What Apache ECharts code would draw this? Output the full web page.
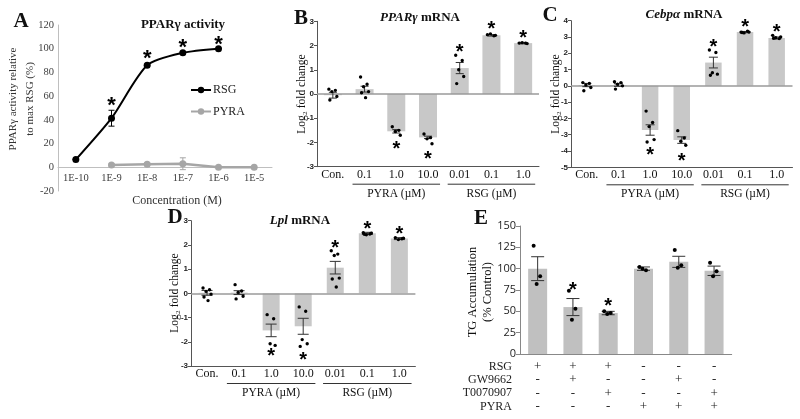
<!DOCTYPE html>
<html><head><meta charset="utf-8">
<script src="https://cdn.jsdelivr.net/npm/echarts/dist/echarts.min.js"></script>
<style>html,body{margin:0;padding:0;background:#fff}#c{width:800px;height:419px}</style>
</head><body><div id="c"></div>
<script>
const SERIF = '"Liberation Serif","Times New Roman",serif';
const SANS = '"Liberation Sans",Arial,sans-serif';

// ---------- Panel A data ----------
const concCats = ['1E-10','1E-9','1E-8','1E-7','1E-6','1E-5'];
const rsgActivity = [6.5, 41.4, 86, 96.5, 100, null];
const rsgActivityErr = [0, 6.7, 0.8, 0.8, 0, null];
const pyraActivity = [null, 2, 2.5, 3, 0, 0];
const pyraActivityErr = [null, 0.8, 1.2, 5, 0.3, 0.3];
const starsA = [[1, 56], [2, 96], [3, 105], [4, 108]];

// ---------- mRNA panels ----------
const mrnaCats = ['Con.', '0.1', '1.0', '10.0', '0.01', '0.1', '1.0'];
const mrnaGroups = [{label: 'PYRA (µM)', from: 1, to: 3}, {label: 'RSG (µM)', from: 4, to: 6}];

const pparMean = [-0.05, 0.2, -1.54, -1.79, 1.07, 2.42, 2.1];
const pparSem = [0.12, 0.12, 0.07, 0.05, 0.23, 0.03, 0.03];
const pparDots = [[0.2, 0.15, 0.1, -0.1, -0.25], [0.7, 0.4, 0.3, 0.1, 0.05, -0.15], [-1.35, -1.5, -1.55, -1.7],
  [-1.65, -1.8, -1.85, -2.05], [1.6, 1.38, 1.0, 0.72, 0.43], [2.45, 2.4, 2.48, 2.42], [2.1, 2.1, 2.12, 2.08]];
const pparStars = [[2, -2.1], [3, -2.5], [4, 1.9], [5, 2.85], [6, 2.5]];

const cebpMean = [0.05, 0.05, -2.71, -3.33, 1.43, 3.3, 2.94];
const cebpSem = [0.1, 0.08, 0.32, 0.2, 0.33, 0.04, 0.06];
const cebpDots = [[0.2, 0.15, 0.05, -0.1, -0.3], [0.25, 0.2, 0.1, 0, -0.2], [-1.55, -2.25, -2.5, -3.3, -3.45],
  [-2.75, -3.2, -3.4, -3.65], [2.2, 2.05, 0.8, 0.72, 0.65], [3.3, 3.35, 3.25, 3.3, 3.28], [3.1, 2.9, 2.95, 3.0, 2.92]];
const cebpStars = [[2, -4.0], [3, -4.35], [4, 2.63], [5, 3.86], [6, 3.57]];

const lplMean = [0.02, 0.03, -1.53, -1.36, 1.06, 2.48, 2.26];
const lplSem = [0.1, 0.08, 0.26, 0.33, 0.26, 0.04, 0.04];
const lplDots = [[0.22, 0.15, 0.08, -0.03, -0.15, -0.3], [0.36, 0.1, 0.04, -0.12, -0.23], [-0.88, -1.05, -2.08, -2.15],
  [-0.56, -0.74, -1.91, -2.08, -2.19], [1.76, 1.62, 1.56, 0.63, 0.59, 0.26], [2.5, 2.45, 2.42, 2.48, 2.44], [2.3, 2.25, 2.22, 2.28]];
const lplStars = [[2, -2.42], [3, -2.56], [4, 2.04], [5, 2.84], [6, 2.63]];

// ---------- Panel E ----------
const tgConditions = ['RSG', 'RSG+GW9662', 'RSG+T0070907', 'PYRA', 'PYRA+GW9662', 'PYRA+T0070907'];
const tgMean = [100, 55, 48, 100, 108, 97.5];
const tgSem = [14, 10, 2, 2, 6.5, 5.5];
const tgDots = [[127, 91, 82], [74, 53, 40], [50, 48, 47], [102, 98, 100], [122, 104, 101], [107, 97, 91]];
const tgStars = [[1, 80], [2, 61]];
const tableRowNames = ['RSG', 'GW9662', 'T0070907', 'PYRA'];
const tableRows = [
  ['+', '+', '+', '-', '-', '-'],
  ['-', '+', '-', '-', '+', '-'],
  ['-', '-', '+', '-', '-', '+'],
  ['-', '-', '-', '+', '+', '+']
];

const chart = echarts.init(document.getElementById('c'));
const jitter = [-4, 2.5, -1, 4, -3, 1];

function errSeries(gi, mean, sem, capW, color, lw) {
  const data = [];
  mean.forEach((m, i) => { if (m != null && sem[i] != null) data.push([i, m, sem[i]]); });
  return {
    type: 'custom', xAxisIndex: gi, yAxisIndex: gi, data, encode: {x: 0, y: 1}, z: 6, silent: true,
    renderItem: (p, api) => {
      const hi = api.coord([api.value(0), api.value(1) + api.value(2)]);
      const lo = api.coord([api.value(0), api.value(1) - api.value(2)]);
      const st = {stroke: color, lineWidth: lw};
      return {type: 'group', children: [
        {type: 'line', shape: {x1: hi[0], y1: hi[1], x2: lo[0], y2: lo[1]}, style: st},
        {type: 'line', shape: {x1: hi[0] - capW, y1: hi[1], x2: hi[0] + capW, y2: hi[1]}, style: st},
        {type: 'line', shape: {x1: lo[0] - capW, y1: lo[1], x2: lo[0] + capW, y2: lo[1]}, style: st}
      ]};
    }
  };
}
function dotSeries(gi, dots, r) {
  const data = [];
  dots.forEach((g, i) => g.forEach((v, j) => data.push([i, v, j])));
  return {
    type: 'custom', xAxisIndex: gi, yAxisIndex: gi, data, encode: {x: 0, y: 1}, z: 7, silent: true,
    renderItem: (p, api) => {
      const c = api.coord([api.value(0), api.value(1)]);
      return {type: 'circle', shape: {cx: c[0] + jitter[api.value(2) % jitter.length], cy: c[1], r}, style: {fill: '#000'}};
    }
  };
}
function starSeries(gi, stars, fs) {
  return {
    type: 'custom', xAxisIndex: gi, yAxisIndex: gi, data: stars, encode: {x: 0, y: 1}, z: 8, silent: true,
    renderItem: (p, api) => {
      const c = api.coord([api.value(0), api.value(1)]);
      return {type: 'text', x: c[0], y: c[1] + 0.24 * fs, style: {text: '*', fontSize: fs, fontFamily: SANS, fontWeight: 'bold', fill: '#000', align: 'center', verticalAlign: 'middle'}};
    }
  };
}

const grids = [
  {left: 58, top: 25, width: 214, height: 166},
  {left: 317, top: 21.3, width: 222, height: 145.4},
  {left: 571, top: 20.7, width: 221.5, height: 146.6},
  {left: 191, top: 220.7, width: 224.4, height: 145.3},
  {left: 520, top: 226, width: 211.7, height: 128}
];
const rangeA = [-20, 120];
const mrnaRanges = {1: [-3, 3], 2: [-5, 4], 3: [-3, 3]};

const xAxes = [], yAxes = [];
xAxes.push({gridIndex: 0, type: 'category', data: concCats,
  axisLine: {onZero: false, lineStyle: {color: '#bfbfbf', width: 1}}, axisTick: {show: false},
  axisLabel: {interval: 0, fontFamily: SERIF, fontSize: 10.5, color: '#404040', margin: 5}});
yAxes.push({gridIndex: 0, type: 'value', min: rangeA[0], max: rangeA[1], interval: 20,
  axisLine: {show: true, lineStyle: {color: '#bfbfbf'}}, axisTick: {show: false}, splitLine: {show: false},
  axisLabel: {fontFamily: SERIF, fontSize: 10.5, color: '#404040', margin: 4}});
[1, 2, 3].forEach(gi => {
  xAxes.push({gridIndex: gi, type: 'category', data: mrnaCats,
    axisLine: {onZero: false, lineStyle: {color: '#555'}}, axisTick: {show: false},
    axisLabel: {interval: 0, fontFamily: SERIF, fontSize: 12, color: '#111', margin: 2}});
  yAxes.push({gridIndex: gi, type: 'value', min: mrnaRanges[gi][0], max: mrnaRanges[gi][1], interval: 1,
    axisLine: {show: true, lineStyle: {color: '#555'}}, axisTick: {show: true, length: 3, lineStyle: {color: '#555'}},
    splitLine: {show: false},
    axisLabel: {fontFamily: SANS, fontWeight: 'bold', fontSize: 8, color: '#222', margin: 3}});
});
xAxes.push({gridIndex: 4, type: 'category', data: tgConditions,
  axisLine: {onZero: false, lineStyle: {color: '#888'}}, axisTick: {show: false},
  axisLabel: {interval: 0, fontFamily: SERIF, fontSize: 13, color: '#222', margin: 6, lineHeight: 13.3,
    formatter: (v, i) => tableRows.map(r => r[i]).join('\n')}});
yAxes.push({gridIndex: 4, type: 'value', min: 0, max: 150, interval: 25,
  axisLine: {show: true, lineStyle: {color: '#888'}}, axisTick: {show: true, length: 4, lineStyle: {color: '#888'}},
  splitLine: {show: false},
  axisLabel: {fontFamily: '"Open Sans",' + SANS, fontSize: 11, color: '#222', margin: 4}});

const series = [];
// Panel A
series.push({name: 'RSG', type: 'line', xAxisIndex: 0, yAxisIndex: 0, data: rsgActivity, smooth: 0.25,
  symbol: 'circle', symbolSize: 7, itemStyle: {color: '#000'}, lineStyle: {color: '#000', width: 2}, z: 4});
series.push({name: 'PYRA', type: 'line', xAxisIndex: 0, yAxisIndex: 0, data: pyraActivity,
  symbol: 'circle', symbolSize: 7, itemStyle: {color: '#a6a6a6'}, lineStyle: {color: '#a6a6a6', width: 2.5}, z: 3});
series.push(errSeries(0, rsgActivity, rsgActivityErr, 3, '#000', 1));
series.push(errSeries(0, pyraActivity, pyraActivityErr, 3, '#a6a6a6', 1));
series.push(starSeries(0, starsA, 22));

const mrnaSets = [
  [1, pparMean, pparSem, pparDots, pparStars, 18, 4],
  [2, cebpMean, cebpSem, cebpDots, cebpStars, 16.5, 4.5],
  [3, lplMean, lplSem, lplDots, lplStars, 17, 5.5]
];
mrnaSets.forEach(([gi, mean, sem, dots, stars, bw, cap]) => {
  series.push({type: 'bar', xAxisIndex: gi, yAxisIndex: gi, data: mean, barWidth: bw, silent: true,
    itemStyle: {color: '#c8c8c8'},
    markLine: {silent: true, symbol: 'none', label: {show: false}, data: [{yAxis: 0}],
      lineStyle: {color: '#9a9a9a', type: 'solid', width: 1.5}}});
  series.push(errSeries(gi, mean, sem, cap, '#333', 1));
  series.push(dotSeries(gi, dots, 1.7));
  series.push(starSeries(gi, stars, 20));
});
series.push({type: 'bar', xAxisIndex: 4, yAxisIndex: 4, data: tgMean, barWidth: 19, silent: true, itemStyle: {color: '#c0c0c0'}});
series.push(errSeries(4, tgMean, tgSem, 6.5, '#333', 1));
series.push(dotSeries(4, tgDots, 2));
series.push(starSeries(4, tgStars, 20));

function txt(x, y, text, font, extra) {
  return Object.assign({type: 'text', x, y, silent: true,
    style: Object.assign({text, fill: '#111', align: 'center', verticalAlign: 'middle'}, font)}, extra || {});
}
const bold = (s) => ({fontFamily: SERIF, fontWeight: 'bold', fontSize: s});
const plain = (s) => ({fontFamily: SERIF, fontSize: s});
const titleRich = (t1, t2) => ({
  text: '{i|' + t1 + '}{b|' + t2 + '}',
  rich: {i: {fontFamily: SERIF, fontWeight: 'bold', fontStyle: 'italic', fontSize: 13, fill: '#111'},
         b: {fontFamily: SERIF, fontWeight: 'bold', fontSize: 13, fill: '#111'}}
});

const graphics = [
  txt(21, 22, 'A', bold(21)), txt(301, 19, 'B', bold(21)), txt(550, 16, 'C', bold(21)),
  txt(175, 218, 'D', bold(21)), txt(481, 219, 'E', bold(21)),
  txt(183, 25, 'PPARγ activity', bold(13)),
  txt(420, 18, '', titleRich('PPARγ', ' mRNA')),
  txt(684, 15, '', titleRich('Cebpα', ' mRNA')),
  txt(300, 221, '', titleRich('Lpl', ' mRNA')),
  txt(21.5, 99, 'PPARγ activity relative\nto max RSG (%)', Object.assign(plain(11), {lineHeight: 17, fill: '#333'}), {rotation: Math.PI / 2}),
  txt(177, 201, 'Concentration (M)', Object.assign(plain(12), {fill: '#333'})),
  txt(302, 94, 'Log₂ fold change', plain(11.5), {rotation: Math.PI / 2}),
  txt(556, 94, 'Log₂ fold change', plain(11.5), {rotation: Math.PI / 2}),
  txt(175, 293, 'Log₂ fold change', plain(11.5), {rotation: Math.PI / 2}),
  txt(480.5, 292, 'TG Accumulation\n(% Control)', Object.assign(plain(12.5), {lineHeight: 15}), {rotation: Math.PI / 2})
];

chart.setOption({
  animation: false,
  backgroundColor: '#fff',
  grid: grids,
  xAxis: xAxes,
  yAxis: yAxes,
  legend: {data: ['RSG', 'PYRA'], orient: 'vertical', left: 190, top: 84, padding: 0, itemWidth: 20, itemHeight: 8, itemGap: 9.5,
    textStyle: {fontFamily: SERIF, fontSize: 12, color: '#222', padding: [0, 0, 0, -3]}},
  series,
  graphic: graphics
});

// move panel A's category axis up onto the zero line
const zeroA = chart.convertToPixel({yAxisIndex: 0}, 0);
const botA = chart.convertToPixel({yAxisIndex: 0}, rangeA[0]);
xAxes[0].offset = -(botA - zeroA);

// group underline labels and table row names, positioned from the axes
[1, 2, 3].forEach(gi => {
  const px = i => chart.convertToPixel({xAxisIndex: gi}, i);
  const bw = px(1) - px(0);
  const yb = chart.convertToPixel({yAxisIndex: gi}, mrnaRanges[gi][0]);
  mrnaGroups.forEach(g => {
    const x1 = px(g.from) - 0.38 * bw, x2 = px(g.to) + 0.38 * bw;
    graphics.push({type: 'line', silent: true, shape: {x1, y1: yb + 17.5, x2, y2: yb + 17.5}, style: {stroke: '#333', lineWidth: 1}});
    graphics.push(txt((px(g.from) + px(g.to)) / 2, yb + 27, g.label, plain(11.5)));
  });
});
const y0E = chart.convertToPixel({yAxisIndex: 4}, 0);
tableRowNames.forEach((n, k) => {
  graphics.push(txt(512, y0E + 12.7 + k * 13.3, n, Object.assign(plain(12), {align: 'right', fill: '#222'})));
});
chart.setOption({xAxis: xAxes, graphic: graphics});
</script></body></html>
